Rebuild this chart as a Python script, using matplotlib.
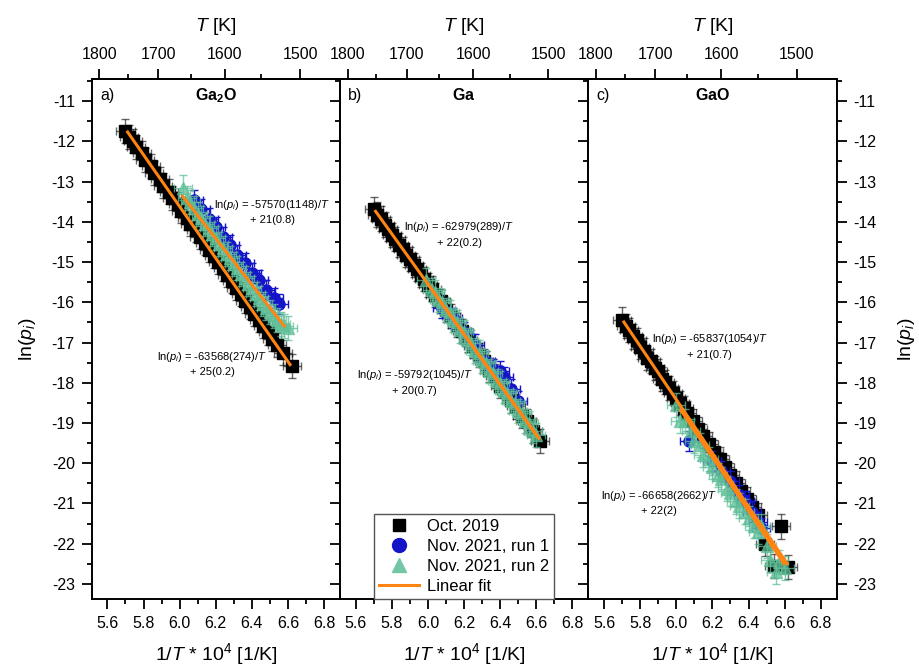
import numpy as np
import matplotlib
matplotlib.use("Agg")
import matplotlib.pyplot as plt
from matplotlib.lines import Line2D
from matplotlib.ticker import MultipleLocator, FixedLocator

plt.rcParams['font.family'] = ['Liberation Sans', 'DejaVu Sans']
plt.rcParams['mathtext.fontset'] = 'custom'
plt.rcParams['mathtext.rm'] = 'Liberation Sans'
plt.rcParams['mathtext.it'] = 'Liberation Sans:italic'
plt.rcParams['mathtext.bf'] = 'Liberation Sans:bold'
plt.rcParams['axes.unicode_minus'] = False

# ---------------- data (x = 1/T * 1e4 [1/K], y = ln(p_i)) ----------------
panel_labels = ["a)", "b)", "c)"]
panel_titles = [r"$\mathbf{Ga_2O}$", r"$\mathbf{Ga}$", r"$\mathbf{GaO}$"]
series_names = ["Oct. 2019", "Nov. 2021, run 1", "Nov. 2021, run 2", "Linear fit"]

# Panel a: Ga2O
ga2o_oct_x = [5.70, 5.72, 5.74, 5.76, 5.79, 5.81, 5.84, 5.86, 5.89, 5.91, 5.94, 5.96, 5.99,
              6.01, 6.04, 6.06, 6.09, 6.11, 6.14, 6.16, 6.19, 6.21, 6.24, 6.26, 6.29, 6.31,
              6.34, 6.36, 6.39, 6.41, 6.44, 6.46, 6.49, 6.51, 6.54, 6.57, 6.62]
ga2o_oct_y = [-11.75, -11.90, -12.00, -12.15, -12.30, -12.47, -12.62, -12.79, -12.95, -13.10,
              -13.25, -13.42, -13.57, -13.74, -13.90, -14.06, -14.21, -14.37, -14.52, -14.70,
              -14.84, -15.01, -15.16, -15.33, -15.48, -15.65, -15.79, -15.96, -16.11, -16.28,
              -16.43, -16.60, -16.75, -16.92, -17.06, -17.25, -17.58]
ga2o_run1_x = [6.08, 6.12, 6.16, 6.20, 6.24, 6.28, 6.32, 6.36, 6.40, 6.44, 6.48, 6.52, 6.55]
ga2o_run1_y = [-13.45, -13.68, -13.92, -14.12, -14.38, -14.58, -14.82, -15.02, -15.28, -15.45,
               -15.70, -15.90, -16.05]
ga2o_run2_x = [6.02, 6.04, 6.06, 6.08, 6.10, 6.12, 6.14, 6.16, 6.18, 6.20, 6.22, 6.24, 6.26,
               6.28, 6.30, 6.32, 6.34, 6.36, 6.38, 6.40, 6.42, 6.44, 6.46, 6.48, 6.50, 6.52,
               6.54, 6.56, 6.58, 6.60]
ga2o_run2_y = [-13.15, -13.40, -13.50, -13.65, -13.80, -13.90, -14.05, -14.15, -14.30, -14.40,
               -14.55, -14.65, -14.80, -14.90, -15.05, -15.15, -15.30, -15.40, -15.55, -15.65,
               -15.80, -15.90, -16.05, -16.15, -16.25, -16.35, -16.45, -16.55, -16.60, -16.65]
ga2o_fit1_x = [5.707, 6.616]
ga2o_fit1_y = [-11.74, -17.58]
ga2o_fit2_x = [6.012, 6.584]
ga2o_fit2_y = [-13.34, -16.62]

# Panel b: Ga
ga_oct_x = [5.70, 5.72, 5.74, 5.76, 5.78, 5.80, 5.82, 5.84, 5.86, 5.88, 5.90, 5.92, 5.94,
            5.96, 5.98, 6.00, 6.02, 6.04, 6.07, 6.10, 6.13, 6.16, 6.19, 6.22, 6.25, 6.28,
            6.31, 6.34, 6.37, 6.40, 6.43, 6.46, 6.49, 6.52, 6.55, 6.58, 6.62]
ga_oct_y = [-13.68, -13.82, -13.92, -14.07, -14.17, -14.32, -14.42, -14.57, -14.67, -14.82,
            -14.92, -15.07, -15.17, -15.32, -15.42, -15.57, -15.66, -15.82, -15.97, -16.20,
            -16.34, -16.57, -16.72, -16.94, -17.09, -17.32, -17.46, -17.69, -17.84, -18.07,
            -18.21, -18.44, -18.59, -18.82, -18.96, -19.19, -19.45]
ga_run1_x = [6.08, 6.14, 6.20, 6.26, 6.32, 6.36, 6.40, 6.42, 6.46, 6.50]
ga_run1_y = [-16.15, -16.40, -16.75, -17.05, -17.45, -17.65, -17.72, -17.85, -18.15, -18.45]
ga_run2_x = [5.99, 6.02, 6.04, 6.06, 6.08, 6.10, 6.12, 6.14, 6.16, 6.18, 6.20, 6.22, 6.24,
             6.26, 6.28, 6.30, 6.32, 6.34, 6.36, 6.38, 6.40, 6.42, 6.44, 6.46, 6.48, 6.50,
             6.52, 6.54, 6.56, 6.58, 6.60]
ga_run2_y = [-15.45, -15.70, -15.75, -15.95, -16.00, -16.20, -16.25, -16.45, -16.50, -16.70,
             -16.75, -16.95, -17.00, -17.20, -17.25, -17.45, -17.50, -17.70, -17.75, -17.95,
             -18.00, -18.20, -18.25, -18.45, -18.50, -18.70, -18.75, -18.95, -19.00, -19.20,
             -19.30]
ga_fit1_x = [5.705, 6.619]
ga_fit1_y = [-13.71, -19.41]
ga_fit2_x = [6.00, 6.60]
ga_fit2_y = [-15.55, -19.30]

# Panel c: GaO
gao_oct_x = [5.70, 5.72, 5.74, 5.76, 5.78, 5.80, 5.82, 5.84, 5.86, 5.88, 5.90, 5.92, 5.94,
             5.96, 5.98, 6.00, 6.02, 6.04, 6.06, 6.09, 6.12, 6.15, 6.18, 6.21, 6.24, 6.27,
             6.30, 6.33, 6.36, 6.39, 6.42, 6.45, 6.58, 6.49, 6.54, 6.62]
gao_oct_y = [-16.43, -16.58, -16.68, -16.85, -16.94, -17.11, -17.20, -17.38, -17.47, -17.64,
             -17.72, -17.90, -17.98, -18.12, -18.25, -18.38, -18.50, -18.62, -18.76, -18.95,
             -19.15, -19.33, -19.52, -19.72, -19.90, -20.10, -20.30, -20.50, -20.70, -20.88,
             -21.08, -21.28, -21.57, -22.01, -22.55, -22.58]
gao_run1_x = [6.07, 6.20, 6.25, 6.30, 6.35, 6.38, 6.42, 6.45, 6.47]
gao_run1_y = [-19.45, -19.95, -20.20, -20.45, -20.80, -20.95, -21.20, -21.45, -21.60]
gao_run2_x = [6.00, 6.02, 6.05, 6.08, 6.10, 6.13, 6.15, 6.18, 6.20, 6.23, 6.25, 6.28, 6.30,
              6.33, 6.35, 6.38, 6.40, 6.43, 6.45, 6.47, 6.50, 6.52, 6.55, 6.57, 6.60]
gao_run2_y = [-18.55, -18.95, -18.95, -19.20, -19.45, -19.55, -19.80, -19.90, -20.10, -20.30,
              -20.40, -20.65, -20.75, -20.95, -21.05, -21.20, -21.35, -21.55, -21.70, -21.55,
              -22.05, -22.40, -22.70, -22.45, -22.60]
gao_fit1_x = [5.705, 6.619]
gao_fit1_y = [-16.46, -22.53]
gao_fit2_x = [6.02, 6.60]
gao_fit2_y = [-18.65, -22.52]

# typical error bar half-widths
oct_xerr, oct_yerr = 0.05, 0.30
run1_xerr, run1_yerr = 0.05, 0.25
run2_xerr, run2_yerr = 0.05, 0.30

fit_texts = [
    [("$\\ln(p_i)$ = -57570(1148)/$T$", "+ 21(0.8)", 6.512, -13.58, -13.95),
     ("$\\ln(p_i)$ = -63568(274)/$T$", "+ 25(0.2)", 6.182, -17.36, -17.73)],
    [("$\\ln(p_i)$ = -62979(289)/$T$", "+ 22(0.2)", 6.174, -14.12, -14.53),
     ("$\\ln(p_i)$ = -59792(1045)/$T$", "+ 20(0.7)", 5.927, -17.80, -18.20)],
    [("$\\ln(p_i)$ = -65837(1054)/$T$", "+ 21(0.7)", 6.185, -16.92, -17.32),
     ("$\\ln(p_i)$ = -66658(2662)/$T$", "+ 22(2)", 5.906, -20.81, -21.19)],
]

T_major = [1800, 1700, 1600, 1500]
T_minor = [1750, 1650, 1550]

panels = [
    (ga2o_oct_x, ga2o_oct_y, ga2o_run1_x, ga2o_run1_y, ga2o_run2_x, ga2o_run2_y,
     [(ga2o_fit1_x, ga2o_fit1_y), (ga2o_fit2_x, ga2o_fit2_y)]),
    (ga_oct_x, ga_oct_y, ga_run1_x, ga_run1_y, ga_run2_x, ga_run2_y,
     [(ga_fit1_x, ga_fit1_y), (ga_fit2_x, ga_fit2_y)]),
    (gao_oct_x, gao_oct_y, gao_run1_x, gao_run1_y, gao_run2_x, gao_run2_y,
     [(gao_fit1_x, gao_fit1_y), (gao_fit2_x, gao_fit2_y)]),
]

c_black = 'black'
c_blue = '#1414c8'
c_green = '#5fbf98'
c_orange = '#ff8411'

fig = plt.figure(figsize=(9.19, 6.69), dpi=100)
left, bottom = 0.0998, 0.1042
w, h = 0.2702, 0.7773


def inv(x):
    x = np.asarray(x, dtype=float)
    with np.errstate(divide='ignore', invalid='ignore'):
        return np.where(x != 0, 1e4 / np.where(x != 0, x, 1), np.inf)


for i, (ox, oy, bx, by, gx, gy, fits) in enumerate(panels):
    ax = fig.add_axes([left + i * w, bottom, w, h])
    ax.errorbar(ox, oy, xerr=oct_xerr, yerr=oct_yerr, fmt='s', ms=9, color=c_black,
                ecolor=(0, 0, 0, 0.6), elinewidth=1, capsize=3, capthick=1, zorder=2)
    ax.errorbar(bx, by, xerr=run1_xerr, yerr=run1_yerr, fmt='o', ms=8, color=c_blue,
                ecolor=c_blue, elinewidth=1, capsize=3, capthick=1, zorder=3)
    ax.errorbar(gx, gy, xerr=run2_xerr, yerr=run2_yerr, fmt='^', ms=9, color=c_green,
                ecolor=c_green, elinewidth=1, capsize=3, capthick=1, alpha=0.75, zorder=4)
    for fx, fy in fits:
        ax.plot(fx, fy, color=c_orange, lw=2.2, zorder=5, solid_capstyle='butt')

    ax.set_xlim(5.513, 6.888)
    ax.set_ylim(-23.38, -10.46)
    ax.xaxis.set_major_locator(MultipleLocator(0.2))
    ax.xaxis.set_minor_locator(MultipleLocator(0.1))
    ax.yaxis.set_major_locator(MultipleLocator(1))
    ax.yaxis.set_minor_locator(MultipleLocator(0.5))
    ax.xaxis.set_major_formatter(matplotlib.ticker.FormatStrFormatter('%.1f'))
    ax.tick_params(axis='both', which='major', length=7.2, width=1.3, labelsize=11.5,
                   direction='out', pad=5)
    ax.tick_params(axis='both', which='minor', length=3.6, width=1.3, direction='out')
    ax.tick_params(axis='y', which='both', left=True, right=True,
                   labelleft=(i == 0), labelright=(i == 2))
    ax.tick_params(axis='x', which='both', top=False, bottom=True)
    for s in ax.spines.values():
        s.set_linewidth(1.4)
    ax.set_xlabel('1/$T$ * 10$^4$ [1/K]', fontsize=14, labelpad=7)

    if i == 0:
        ax.set_ylabel('$\\ln(p_i)$', fontsize=14, labelpad=10)
    if i == 2:
        ax.yaxis.set_label_position('right')
        ax.set_ylabel('$\\ln(p_i)$', fontsize=14, labelpad=14)

    sec = ax.secondary_xaxis('top', functions=(inv, inv))
    sec.xaxis.set_major_locator(FixedLocator(T_major))
    sec.xaxis.set_minor_locator(FixedLocator(T_minor))
    sec.xaxis.set_major_formatter(matplotlib.ticker.FormatStrFormatter('%d'))
    sec.tick_params(axis='x', which='major', length=7.2, width=1.3, labelsize=11.5,
                    direction='out', pad=5)
    sec.tick_params(axis='x', which='minor', length=3.6, width=1.3, direction='out')
    sec.spines['top'].set_linewidth(1.4)
    sec.set_xlabel('$T$ [K]', fontsize=14, labelpad=12)

    ax.text(0.033, 0.969, panel_labels[i], transform=ax.transAxes, fontsize=11.5,
            ha='left', va='center')
    ax.text(0.5, 0.969, panel_titles[i], transform=ax.transAxes, fontsize=11.5,
            ha='center', va='center')

    for (l1, l2, tx, ty1, ty2) in fit_texts[i]:
        ax.text(tx, ty1, l1, fontsize=8, ha='center', va='center', zorder=6)
        ax.text(tx, ty2, l2, fontsize=8, ha='center', va='center', zorder=6)

    if i == 1:
        handles = [
            Line2D([], [], marker='s', color=c_black, ls='none', ms=9),
            Line2D([], [], marker='o', color=c_blue, ls='none', ms=10),
            Line2D([], [], marker='^', color='#74c7a6', ls='none', ms=10),
            Line2D([], [], color=c_orange, lw=2.2),
        ]
        leg = ax.legend(handles, series_names, loc='lower center', bbox_to_anchor=(0.5, 0.0),
                        borderaxespad=0.0, fontsize=12, frameon=True, fancybox=False,
                        edgecolor='#555555', framealpha=1, labelspacing=0.3,
                        handlelength=2.4, handletextpad=0.5, borderpad=0.3)
        leg.get_frame().set_linewidth(1.0)
        leg.set_zorder(10)

fig.savefig('out.png', dpi=100)
